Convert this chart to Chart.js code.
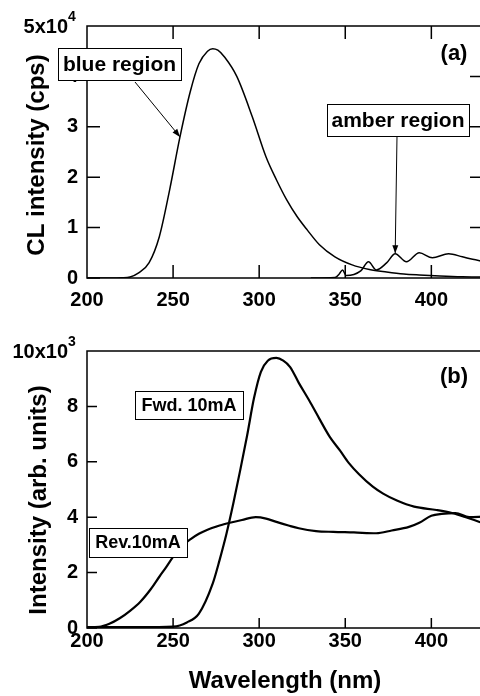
<!DOCTYPE html>
<html>
<head>
<meta charset="utf-8">
<script src="https://cdn.jsdelivr.net/npm/chart.js@4.4.1/dist/chart.umd.min.js"></script>
<style>
html,body{margin:0;padding:0;background:#fff;overflow:hidden;width:480px;height:696px;}
canvas{position:absolute;left:0;}
#chartA{top:0;}
#chartB{top:320px;}
</style>
</head>
<body>
<canvas id="chartA" width="500" height="320"></canvas>
<canvas id="chartB" width="500" height="376"></canvas>
<script>
// DADOS (a) - espectro CL, unidade 1e4 cps
const clWave = [200, 215, 220, 225, 230, 236, 242, 248, 254, 260, 265, 270, 273, 276, 280, 287, 296, 304, 310, 316, 322, 328, 335, 344, 354, 364, 374, 384, 393, 405, 418, 430];
const clBlue = [0, 0, 0.005, 0.02, 0.1, 0.3, 0.82, 1.75, 2.8, 3.7, 4.25, 4.5, 4.55, 4.52, 4.38, 4.0, 3.2, 2.4, 1.95, 1.55, 1.22, 0.95, 0.66, 0.42, 0.26, 0.17, 0.12, 0.08, 0.06, 0.04, 0.025, 0.02];
const amberWave = [330, 344, 346.5, 348.4, 350.5, 355, 359, 363.5, 368, 374, 379, 385.5, 393, 400.6, 410, 418, 424, 430];
const clAmber = [0, 0.01, 0.08, 0.16, 0.05, 0.07, 0.14, 0.32, 0.16, 0.3, 0.48, 0.32, 0.5, 0.4, 0.48, 0.42, 0.37, 0.33];

// DADOS (b) - EL, unidade 1e3
const fwdWave = [200, 230, 250, 258, 265, 273, 277, 281, 285, 289, 293, 297, 301, 305, 310, 314, 318, 323, 329, 335, 341, 347, 352, 358, 366, 372, 380, 390, 403, 412, 420, 428, 430];
const fwdInt = [0.03, 0.03, 0.05, 0.2, 0.52, 1.6, 2.45, 3.4, 4.5, 5.7, 6.95, 8.3, 9.25, 9.65, 9.75, 9.65, 9.42, 8.85, 8.22, 7.55, 6.9, 6.4, 5.96, 5.55, 5.1, 4.85, 4.6, 4.38, 4.26, 4.15, 4.0, 3.83, 3.78];
const revWave = [200, 207, 213, 219, 225, 231, 237, 242, 246, 250, 255, 260, 265, 270, 277, 283, 290, 298, 304, 310, 317, 323, 333, 343, 355, 368, 377, 387, 393, 400, 406, 414, 422, 430];
const revInt = [0.03, 0.04, 0.15, 0.35, 0.62, 0.95, 1.4, 1.85, 2.2, 2.57, 2.95, 3.2, 3.4, 3.55, 3.7, 3.8, 3.9, 4.0, 3.95, 3.83, 3.7, 3.6, 3.5, 3.47, 3.45, 3.42, 3.52, 3.65, 3.8, 4.05, 4.12, 4.15, 4.0, 4.02];

// TICKS
const waveTicks = [200, 250, 300, 350, 400];
const clTicks = [0, 1, 2, 3, 4, 5];
const elTicks = [0, 2, 4, 6, 8, 10];

const FONT = '"Liberation Sans", Arial, sans-serif';

function pts(xs, ys){ return xs.map((x,i)=>({x:x, y:ys[i]})); }

function linha(data, w){
  return { data, borderColor:'#000', borderWidth:w, pointRadius:0, fill:false, cubicInterpolationMode:'monotone' };
}

// desenha moldura, ticks internos, títulos e anotações
const decor = {
  id:'decor',
  afterDraw(chart, args, o){
    const ctx = chart.ctx, a = chart.chartArea, x = chart.scales.x, y = chart.scales.y;
    ctx.save();
    ctx.strokeStyle = '#000';
    ctx.lineWidth = o.frame;
    ctx.strokeRect(a.left, a.top, a.right-a.left, a.bottom-a.top);
    ctx.beginPath();
    x.ticks.forEach(t=>{
      const px = x.getPixelForValue(t.value);
      if(px <= a.left+1) return;
      ctx.moveTo(px, a.bottom); ctx.lineTo(px, a.bottom-o.tick);
      if(o.mirror){ ctx.moveTo(px, a.top); ctx.lineTo(px, a.top+o.tick); }
    });
    y.ticks.forEach(t=>{
      const py = y.getPixelForValue(t.value);
      if(py <= a.top+1) return;
      ctx.moveTo(a.left, py); ctx.lineTo(a.left+o.tick, py);
      if(o.mirror && py < a.bottom-1){ ctx.moveTo(a.right, py); ctx.lineTo(a.right-o.tick, py); }
    });
    ctx.stroke();

    // rótulo do topo com expoente
    ctx.fillStyle = '#000';
    ctx.textBaseline = 'middle';
    ctx.textAlign = 'right';
    ctx.font = 'bold 20px ' + FONT;
    const ty = y.getPixelForValue(y.max);
    ctx.fillText(o.exp[0], 68, ty+1);
    ctx.textAlign = 'left';
    ctx.font = 'bold 14px ' + FONT;
    ctx.fillText(o.exp[1], 68, ty-9);

    // título do eixo y
    ctx.save();
    ctx.translate(o.yTitle.x, o.yTitle.y);
    ctx.rotate(-Math.PI/2);
    ctx.textAlign = 'center';
    ctx.font = 'bold 24px ' + FONT;
    ctx.fillText(o.yTitle.text, 0, 0);
    ctx.restore();

    // setas
    ctx.lineWidth = 1;
    (o.arrows||[]).forEach(ar=>{
      const x1 = x.getPixelForValue(ar.to[0]), y1 = y.getPixelForValue(ar.to[1]);
      const ang = Math.atan2(y1-ar.from[1], x1-ar.from[0]);
      ctx.beginPath();
      ctx.moveTo(ar.from[0], ar.from[1]); ctx.lineTo(x1, y1);
      ctx.stroke();
      ctx.beginPath();
      ctx.moveTo(x1, y1);
      ctx.lineTo(x1-8*Math.cos(ang)+3*Math.sin(ang), y1-8*Math.sin(ang)-3*Math.cos(ang));
      ctx.lineTo(x1-8*Math.cos(ang)-3*Math.sin(ang), y1-8*Math.sin(ang)+3*Math.cos(ang));
      ctx.closePath();
      ctx.fill();
    });

    // caixas de texto
    (o.boxes||[]).forEach(b=>{
      ctx.fillStyle = '#fff';
      ctx.fillRect(b.x, b.y, b.w, b.h);
      ctx.strokeStyle = '#000';
      ctx.lineWidth = 1;
      ctx.strokeRect(b.x+0.5, b.y+0.5, b.w, b.h);
      ctx.fillStyle = '#000';
      ctx.textAlign = 'center';
      ctx.textBaseline = 'middle';
      ctx.font = 'bold ' + b.size + 'px ' + FONT;
      ctx.fillText(b.text, b.x+b.w/2, b.y+b.h/2+1);
    });

    // (a) / (b)
    ctx.fillStyle = '#000';
    ctx.textAlign = 'center';
    ctx.font = 'bold 22px ' + FONT;
    ctx.fillText(o.tag[0], o.tag[1], o.tag[2]);
    ctx.restore();
  }
};

function eixoX(altura, pad, titulo){
  return {
    type:'linear', min:200, max:430,
    afterBuildTicks: s => { s.ticks = waveTicks.map(v=>({value:v})); },
    afterFit: s => { s.height = altura; },
    grid:{ display:false, drawTicks:false },
    border:{ display:false },
    ticks:{ color:'#000', padding:pad, maxRotation:0, autoSkip:false, font:{ family:FONT, size:20, weight:'bold' } },
    title: titulo ? { display:true, text:titulo, color:'#000', padding:{top:0,bottom:0}, font:{ family:FONT, size:24, weight:'bold' } } : { display:false }
  };
}

function eixoY(max, lista){
  return {
    type:'linear', min:0, max:max,
    afterBuildTicks: s => { s.ticks = lista.map(v=>({value:v})); },
    afterFit: s => { s.width = 87; },
    grid:{ display:false, drawTicks:false },
    border:{ display:false },
    ticks:{ color:'#000', padding:9, font:{ family:FONT, size:20, weight:'bold' },
      callback: v => v === max ? '' : String(v) }
  };
}

// GRÁFICO (a)
new Chart(document.getElementById('chartA'), {
  type:'line',
  data:{ datasets:[ linha(pts(clWave, clBlue), 1.5), linha(pts(amberWave, clAmber), 1.5) ] },
  options:{
    responsive:false, animation:false, devicePixelRatio:1,
    layout:{ padding:{ top:26, left:0, right:17, bottom:0 } },
    scales:{ x: eixoX(42, 10), y: eixoY(5, clTicks) },
    plugins:{
      legend:{ display:false }, tooltip:{ enabled:false },
      decor:{
        frame:1.5, tick:13, mirror:true, exp:['5x10','4'],
        yTitle:{ text:'CL intensity (cps)', x:37, y:155 },
        arrows:[ { from:[135,82], to:[254,2.8] }, { from:[397,136], to:[379,0.49] } ],
        boxes:[
          { text:'blue region', x:58, y:48, w:123, h:32, size:21 },
          { text:'amber region', x:327, y:104, w:142, h:32, size:21 }
        ],
        tag:['(a)', 454, 54]
      }
    }
  },
  plugins:[decor]
});

// GRÁFICO (b)
new Chart(document.getElementById('chartB'), {
  type:'line',
  data:{ datasets:[ linha(pts(fwdWave, fwdInt), 2.2), linha(pts(revWave, revInt), 2.2) ] },
  options:{
    responsive:false, animation:false, devicePixelRatio:1,
    layout:{ padding:{ top:31, left:0, right:17, bottom:0 } },
    scales:{ x: eixoX(68, 1, 'Wavelength (nm)'), y: eixoY(10, elTicks) },
    plugins:{
      legend:{ display:false }, tooltip:{ enabled:false },
      decor:{
        frame:1.5, tick:10, mirror:false, exp:['10x10','3'],
        yTitle:{ text:'Intensity (arb. units)', x:39, y:180 },
        boxes:[
          { text:'Fwd. 10mA', x:135, y:71, w:108, h:28, size:18 },
          { text:'Rev.10mA', x:89, y:208, w:98, h:29, size:18 }
        ],
        tag:['(b)', 454, 57]
      }
    }
  },
  plugins:[decor]
});
</script>
</body>
</html>
